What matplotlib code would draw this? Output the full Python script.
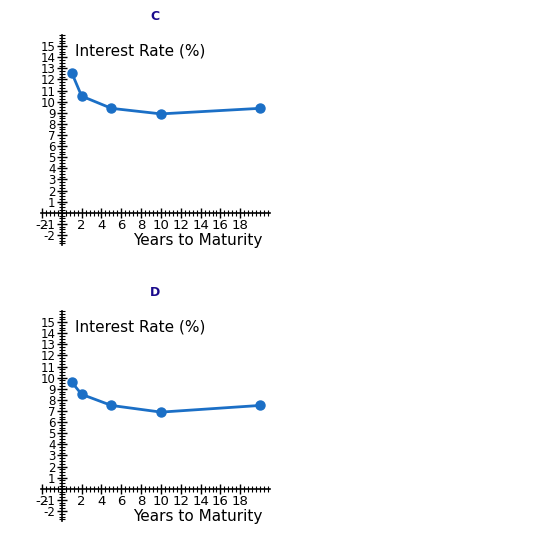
import numpy as np
import matplotlib.pyplot as plt
from matplotlib.ticker import MultipleLocator, FixedLocator

years = [1, 2, 5, 10, 20]
rates_c = [12.6, 10.5, 9.4, 8.9, 9.4]
rates_d = [9.6, 8.5, 7.5, 6.9, 7.5]
x_labels = [-2, 2, 4, 6, 8, 10, 12, 14, 16, 18]
y_labels = [-2, -1] + list(range(1, 16))

W, H = 550, 544
fig = plt.figure(figsize=(5.5, 5.44), dpi=100, facecolor='w')

line_col = '#1b6fc6'
tick_font = ['Liberation Sans Narrow', 'DejaVu Sans']

def panel(top_px, title, rates):
    # axes box in pixel coords -> figure coords
    left, right = 41, 270
    bottom = top_px + 210
    ax = fig.add_axes([left / W, 1 - bottom / H, (right - left) / W, 210 / H])
    ax.set_xlim(-2.1, 21.0)
    ax.set_ylim(-2.9, 16.0)
    for s in ['top', 'right']:
        ax.spines[s].set_visible(False)
    ax.spines['left'].set_position('zero')
    ax.spines['bottom'].set_position('zero')
    ax.spines['left'].set_linewidth(1.2)
    ax.spines['bottom'].set_linewidth(1.2)
    ax.patch.set_alpha(0)

    ax.xaxis.set_major_locator(FixedLocator(x_labels))
    ax.xaxis.set_minor_locator(MultipleLocator(0.4))
    ax.yaxis.set_major_locator(FixedLocator(y_labels))
    ax.yaxis.set_minor_locator(MultipleLocator(0.25))
    ax.tick_params(which='major', direction='inout', length=7, width=1, pad=1)
    ax.tick_params(which='minor', direction='inout', length=4, width=0.8)
    ax.set_xticklabels([str(v) for v in x_labels], family=tick_font, fontsize=9.5)
    ax.set_yticklabels([str(v) for v in y_labels], family=tick_font, fontsize=8.5)

    ax.plot(years, rates, '-o', color=line_col, lw=2, ms=6.5, clip_on=False, zorder=5)

    ax.text(1.3, 14.6, 'Interest Rate (%)', fontsize=11, va='center', ha='left')
    ax.text(20.2, -2.45, 'Years to Maturity', fontsize=11, va='center', ha='right')
    fig.text(155 / W, 1 - (top_px - 18) / H, title, color='#1a0a8c',
             fontsize=9, fontweight='bold', ha='center', va='center')

panel(35, 'C', rates_c)
panel(311, 'D', rates_d)

plt.savefig('out.png', dpi=100)
